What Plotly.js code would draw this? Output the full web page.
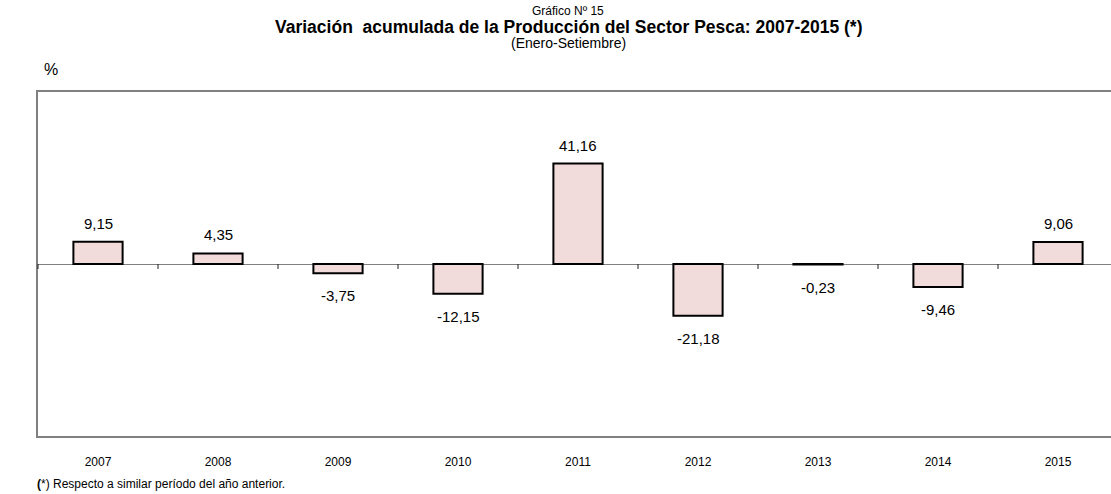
<!DOCTYPE html>
<html>
<head>
<meta charset="utf-8">
<script src="https://cdn.plot.ly/plotly-3.0.1.min.js"></script>
<style>
html,body{margin:0;padding:0;overflow:hidden;background:#fff;}
#chart{width:1122px;height:494px;}
</style>
</head>
<body>
<div id="chart"></div>
<script>
var years = ['2007','2008','2009','2010','2011','2012','2013','2014','2015'];
var values = [9.15, 4.35, -3.75, -12.15, 41.16, -21.18, -0.23, -9.46, 9.06];
var valueLabels = ['9,15','4,35','-3,75','-12,15','41,16','-21,18','-0,23','-9,46','9,06'];

var yMin = -70.5, yMax = 70.5;
var tickLen = 5 / 344 * (yMax - yMin); // 5px tick length expressed in data units

var sans = '"Liberation Sans", Arial, sans-serif';

var trace = {
  type: 'bar',
  x: years,
  y: values,
  marker: {color: '#f2dcdb', line: {color: '#000000', width: 2}},
  hoverinfo: 'skip'
};

var annotations = [];
for (var i = 0; i < years.length; i++) {
  var pos = values[i] >= 0;
  annotations.push({
    x: i, y: values[i], xref: 'x', yref: 'y',
    text: valueLabels[i], showarrow: false,
    yanchor: pos ? 'bottom' : 'top',
    yshift: pos ? 8 : -12,
    font: {family: sans, size: 15, color: '#000'}
  });
}
var cx = (568 - 38) / 1080;
annotations.push({xref:'paper', yref:'paper', x: cx, y: 1, yanchor:'middle', yshift: 92-11, showarrow:false,
  text:'Gráfico Nº 15', font:{family: sans, size: 12, color:'#000'}});
annotations.push({xref:'paper', yref:'paper', x: cx, y: 1, yanchor:'middle', yshift: 92-27, showarrow:false,
  text:'<b>Variación  acumulada de la Producción del Sector Pesca: 2007-2015 (*)</b>', font:{family: sans, size: 17.5, color:'#000'}});
annotations.push({xref:'paper', yref:'paper', x: cx, y: 1, yanchor:'middle', yshift: 92-43, showarrow:false,
  text:'(Enero-Setiembre)', font:{family: sans, size: 14, color:'#000'}});
annotations.push({xref:'paper', yref:'paper', x: 0, xshift: 4, y: 1, yanchor:'middle', yshift: 92-69, showarrow:false,
  text:'%', font:{family: sans, size: 16, color:'#000'}});
annotations.push({xref:'paper', yref:'paper', x: 0, xanchor:'left', xshift: -3, y: 0, yanchor:'middle', yshift: -(484-436), showarrow:false,
  text:'<b>(</b>*) Respecto a similar período del año anterior.', font:{family: sans, size: 12, color:'#000'}});

// small ticks on the zero line at category boundaries (paper-x positions)
var shapes = [];
for (var j = 0; j <= years.length; j++) {
  shapes.push({
    type: 'line', xref: 'paper', yref: 'y',
    x0: j / years.length, x1: j / years.length, y0: 0, y1: -tickLen,
    line: {color: '#202020', width: 1}, layer: 'above'
  });
}

var layout = {
  width: 1122, height: 494,
  margin: {l: 38, r: 4, t: 92, b: 58},
  paper_bgcolor: '#fff', plot_bgcolor: '#fff',
  showlegend: false,
  bargap: 0.59,
  separators: ',.',
  xaxis: {
    type: 'category',
    categoryorder: 'array', categoryarray: years,
    range: [-0.5, years.length - 0.5],
    showline: true, linecolor: '#808080', linewidth: 2, mirror: true,
    ticks: '', showgrid: false, zeroline: false,
    tickfont: {family: sans, size: 12, color: '#000'},
    ticklabelstandoff: 14,
    fixedrange: true
  },
  yaxis: {
    range: [yMin, yMax],
    showline: true, linecolor: '#808080', linewidth: 2, mirror: true,
    showticklabels: false, ticks: '', showgrid: false,
    zeroline: true, zerolinecolor: '#808080', zerolinewidth: 1,
    fixedrange: true
  },
  shapes: shapes,
  annotations: annotations
};

Plotly.newPlot('chart', [trace], layout, {displayModeBar: false, staticPlot: true});
</script>
</body>
</html>
